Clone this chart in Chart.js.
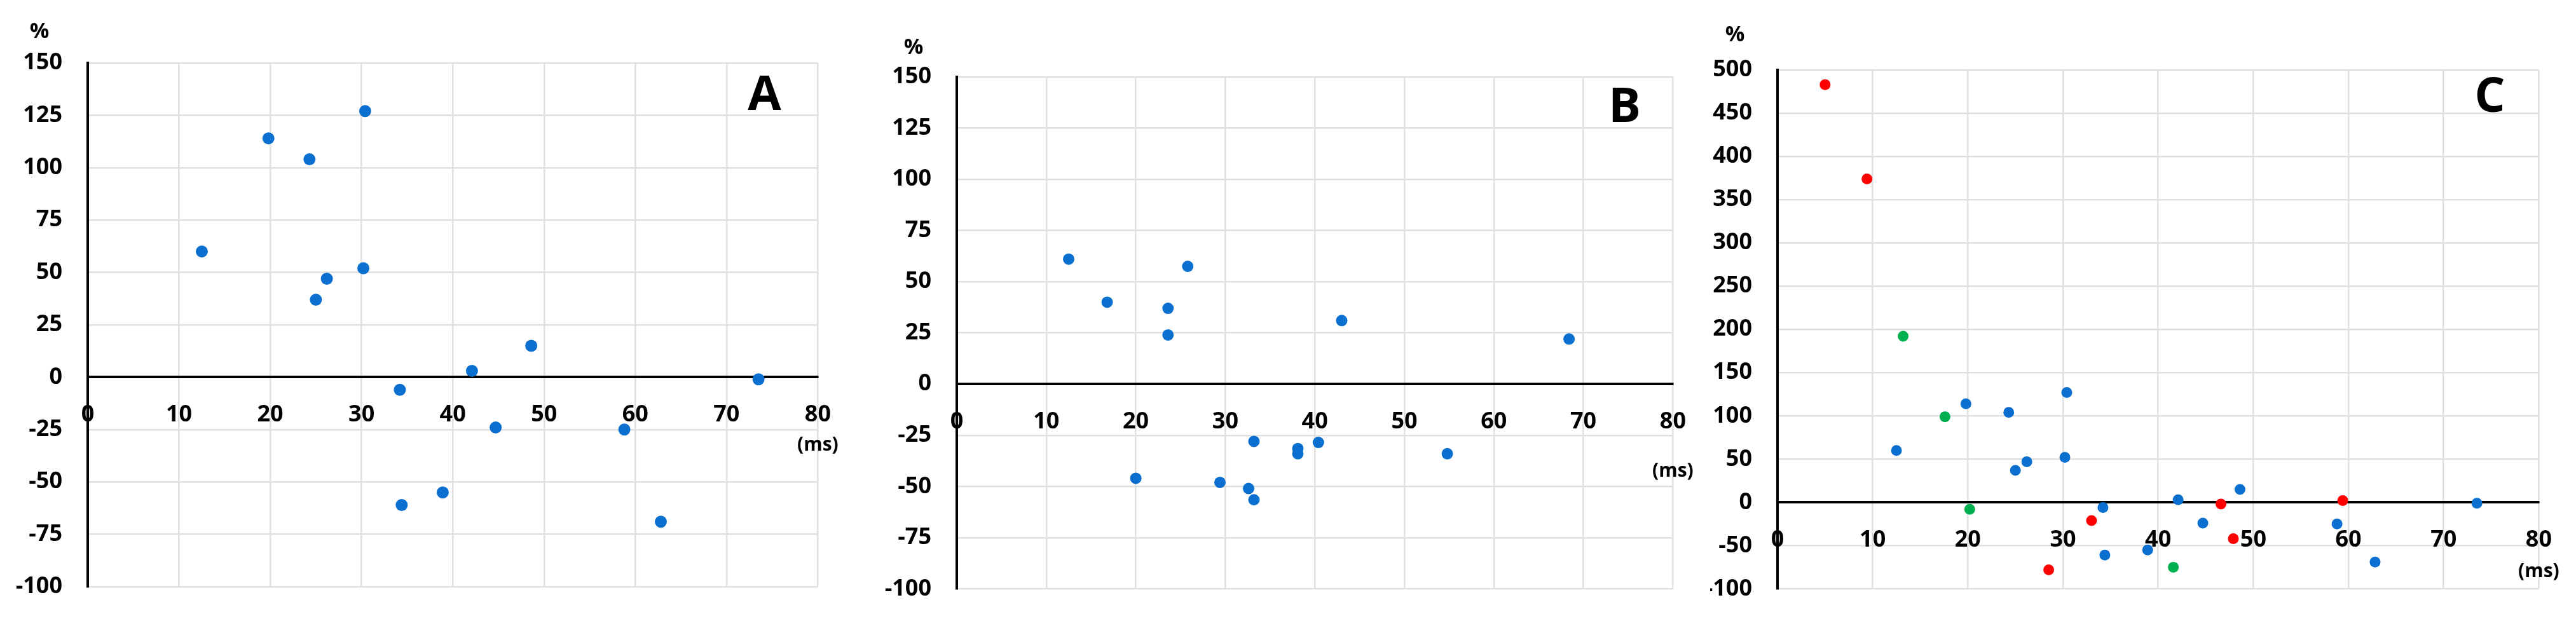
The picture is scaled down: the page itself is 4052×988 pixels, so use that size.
<!DOCTYPE html>
<html>
<head>
<meta charset="utf-8">
<script src="https://cdn.jsdelivr.net/npm/chart.js@4.4.1/dist/chart.umd.min.js"></script>
<style>
html, body { margin: 0; padding: 0; background: #fff; }
#wrap { position: relative; width: 4052px; height: 988px; overflow: hidden; }
canvas { position: absolute; top: 0; }
</style>
</head>
<body>
<div id="wrap">
  <canvas id="chartA" width="1345" height="988" style="left:0"></canvas>
  <canvas id="chartB" width="1345" height="988" style="left:1345px"></canvas>
  <canvas id="chartC" width="1362" height="988" style="left:2690px"></canvas>
</div>
<script>
// delay (ms) vs change (%)
const xTicks = [0, 10, 20, 30, 40, 50, 60, 70, 80];
const yTicksAB = [-100, -75, -50, -25, 0, 25, 50, 75, 100, 125, 150];
const yTicksC = [-100, -50, 0, 50, 100, 150, 200, 250, 300, 350, 400, 450, 500];

// panel A (also the blue points of panel C)
const aDelay  = [12.5, 19.8, 24.3, 30.4, 30.2, 26.2, 25.0, 34.2, 34.4, 42.1, 48.6, 44.7, 38.9, 58.8, 62.8, 73.5];
const aChange = [60, 114, 104, 127, 52, 47, 37, -6, -61, 3, 15, -24, -55, -25, -69, -1];

// panel B
const bDelay  = [12.5, 16.8, 23.6, 23.6, 25.8, 20.0, 29.4, 33.2, 32.6, 33.2, 38.1, 38.1, 40.4, 43.0, 54.8, 68.4];
const bChange = [61, 40, 37, 24, 57.5, -46, -48, -28, -51, -56.5, -31.5, -34, -28.5, 31, -34, 22];

// panel C extra series
const cRedDelay  = [5.0, 9.4, 28.5, 33.0, 46.6, 47.9, 59.4];
const cRedChange = [483, 374, -78, -21, -2, -42, 2];
const cGreenDelay  = [13.2, 17.6, 20.2, 41.6];
const cGreenChange = [192, 99, -8, -75];

const BLUE = '#0a6fcf';
const RED = '#ff0000';
const GREEN = '#00b050';
const FONT = '"Open Sans", "DejaVu Sans", sans-serif';

const toPoints = (xs, ys) => xs.map((x, i) => ({ x, y: ys[i] }));

const series = (xs, ys, color, r) => ({
    data: toPoints(xs, ys),
    pointRadius: r,
    pointBackgroundColor: color,
    pointBorderWidth: 0,
    showLine: false
});

// "%" over the y labels, "(ms)" under 80, panel letter top right
const panelText = {
    id: 'panelText',
    afterDraw(chart, args, opts) {
        const { ctx, chartArea, scales } = chart;
        ctx.save();
        ctx.fillStyle = '#000';
        ctx.textAlign = 'center';
        ctx.textBaseline = 'middle';
        ctx.font = 'bold 34px ' + FONT;
        ctx.fillText('%', chartArea.left + opts.pct[0], chartArea.top + opts.pct[1]);
        ctx.font = 'bold 30px ' + FONT;
        ctx.fillText('(ms)', scales.x.getPixelForValue(80), scales.y.getPixelForValue(0) + opts.ms);
        ctx.font = 'bold 76px ' + FONT;
        ctx.fillText(opts.letter, chartArea.right + opts.lt[0], chartArea.top + opts.lt[1]);
        ctx.restore();
    }
};

function makePanel(id, datasets, yTicks, yWidth, pad, text) {
    const grid = { color: '#e0e0e0', lineWidth: 2.5, drawTicks: false };
    const border = { color: '#000', width: 4 };
    const tickFont = { family: FONT, size: 36, weight: 'bold' };
    return new Chart(document.getElementById(id), {
        type: 'scatter',
        data: { datasets },
        options: {
            responsive: false,
            animation: false,
            layout: { padding: pad },
            plugins: {
                legend: { display: false },
                tooltip: { enabled: false },
                panelText: text
            },
            scales: {
                x: {
                    type: 'linear',
                    position: { y: 0 },
                    min: 0,
                    max: 80,
                    afterBuildTicks: s => { s.ticks = xTicks.map(v => ({ value: v })); },
                    grid,
                    border,
                    ticks: { color: '#000', font: tickFont, padding: 38, maxRotation: 0 }
                },
                y: {
                    type: 'linear',
                    min: yTicks[0],
                    max: yTicks[yTicks.length - 1],
                    afterBuildTicks: s => { s.ticks = yTicks.map(v => ({ value: v })); },
                    afterFit: s => { s.width = yWidth; },
                    grid,
                    border,
                    ticks: { color: '#000', font: tickFont, padding: 40 }
                }
            }
        },
        plugins: [panelText]
    });
}

makePanel('chartA',
    [series(aDelay, aChange, BLUE, 9.5)],
    yTicksAB, 138,
    { left: 0, right: 28, top: 99, bottom: 65 },
    { letter: 'A', pct: [-76, -49], ms: 107, lt: [-84, 52] });

makePanel('chartB',
    [series(bDelay, bChange, BLUE, 9)],
    yTicksAB, 160,
    { left: 0, right: 58, top: 121, bottom: 60 },
    { letter: 'B', pct: [-68, -46], ms: 137, lt: [-76, 49] });

makePanel('chartC',
    [series(aDelay, aChange, BLUE, 8.5),
     series(cRedDelay, cRedChange, RED, 8.5),
     series(cGreenDelay, cGreenChange, GREEN, 8.5)],
    yTicksC, 106,
    { left: 0, right: 54, top: 110, bottom: 49 },
    { letter: 'C', pct: [-67, -55], ms: 109, lt: [-77, 44] });
</script>
</body>
</html>
